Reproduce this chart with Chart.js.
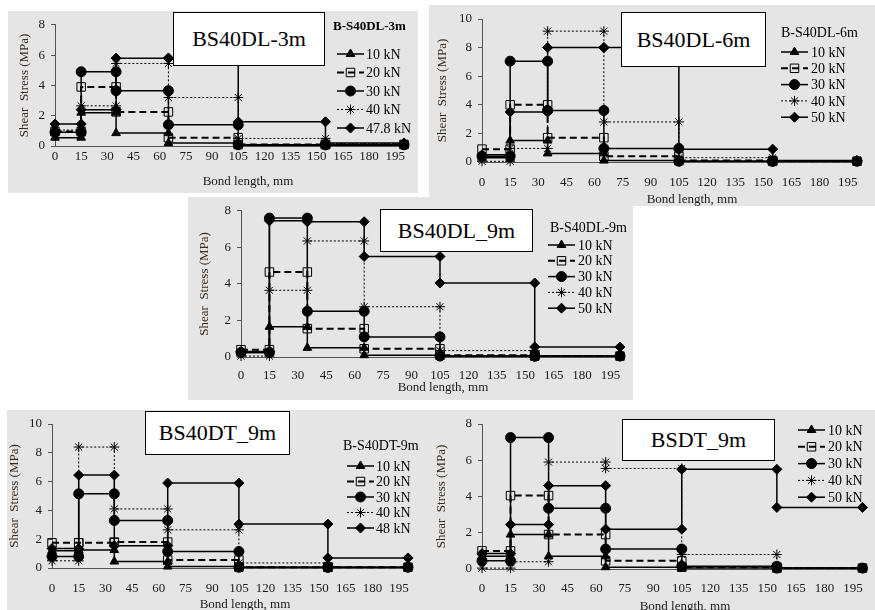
<!DOCTYPE html>
<html>
<head>
<meta charset="utf-8">
<script src="https://cdn.jsdelivr.net/npm/chart.js@4.4.1/dist/chart.umd.min.js"></script>
<style>
  html, body { margin: 0; padding: 0; background: #fff; }
  body { width: 875px; height: 610px; position: relative; overflow: hidden; font-family: "Liberation Serif", Tinos, "Times New Roman", "DejaVu Serif", serif; }
  .panel { position: absolute; background: #e5e5e5; }
  canvas { position: absolute; }
  .tag { position: absolute; background: #fff; border: 1px solid #000; box-sizing: border-box; font-size: 22px; display: flex; align-items: center; justify-content: center; color: #000; }
</style>
</head>
<body>
<script>
// segment edges along the bond length (mm) and x tick labels
const segmentEdges = [0, 15, 35, 65, 105, 155, 200];
const xTicks = [0, 15, 30, 45, 60, 75, 90, 105, 120, 135, 150, 165, 180, 195];

const loadLabels = ["10 kN", "20 kN", "30 kN", "40 kN", "50 kN"];
const loadLabels3m = ["10 kN", "20 kN", "30 kN", "40 kN", "47.8 kN"];
const loadLabelsDT = ["10 kN", "20 kN", "30 kN", "40 kN", "48 kN"];

// shear stress (MPa) per segment: 0-15, 15-35, 35-65, 65-105, 105-155, 155-200
// BS40DL-3m
const dl3m10 = [0.55, 2.2, 0.85, 0.2, 0.05, 0.05];
const dl3m20 = [0.95, 3.9, 2.25, 0.55, 0.1, 0.1];
const dl3m30 = [0.9, 4.9, 3.65, 1.4, 0.08, 0.08];
const dl3m40 = [1.05, 2.65, 5.45, 3.2, 0.5, 0.15];
const dl3m48 = [1.45, 2.4, 5.8, 5.8, 1.6, 0.2];
// BS40DL-6m
const dl6m10 = [0.3, 1.5, 0.6, 0.1, 0.05, 0.05];
const dl6m20 = [0.9, 4.0, 1.7, 0.4, 0.1, 0.05];
const dl6m30 = [0.4, 7.05, 3.6, 0.95, 0.05, 0.05];
const dl6m40 = [0.05, 0.95, 9.15, 2.8, 0.3, 0.1];
const dl6m50 = [0.5, 3.5, 8.0, 8.0, 0.9, 0.1];
// BS40DL_9m
const dl9m10 = [0.25, 1.65, 0.5, 0.1, 0.05, 0.05];
const dl9m20 = [0.4, 4.65, 1.55, 0.45, 0.1, 0.05];
const dl9m30 = [0.25, 7.6, 2.5, 1.1, 0.05, 0.05];
const dl9m40 = [0.05, 3.65, 6.35, 2.75, 0.35, 0.05];
const dl9m50 = [0.3, 7.45, 7.4, 5.5, 4.05, 0.55];
// BS40DT_9m
const dt9m10 = [1.2, 1.25, 0.45, 0.1, 0.05, 0.05];
const dt9m20 = [1.75, 1.75, 1.8, 0.55, 0.05, 0.05];
const dt9m30 = [0.8, 5.15, 3.3, 1.15, 0.05, 0.05];
const dt9m40 = [0.5, 8.4, 4.1, 2.65, 0.35, 0.05];
const dt9m48 = [1.35, 6.45, 1.55, 5.9, 3.05, 0.7];
// BSDT_9m
const sdt10 = [0.7, 1.9, 0.7, 0.1, 0.05, 0.05];
const sdt20 = [1.0, 4.05, 1.9, 0.45, 0.1, 0.05];
const sdt30 = [0.45, 7.25, 3.35, 1.1, 0.15, 0.05];
const sdt40 = [0.05, 0.4, 5.9, 5.55, 0.8, 0.05];
const sdt50 = [0.85, 2.45, 4.6, 2.2, 5.5, 3.4];

const family = '"Liberation Serif", Tinos, "Times New Roman", "DejaVu Serif", serif';
Chart.defaults.font.family = family;

const seriesLook = [
  { pointStyle: "triangle", pointRadius: 5, borderWidth: 1.5, borderDash: [], pointBackgroundColor: "#000" },
  { pointStyle: "rect", pointRadius: 6, borderWidth: 2, borderDash: [7, 4], pointBackgroundColor: "rgba(0,0,0,0)" },
  { pointStyle: "circle", pointRadius: 5, borderWidth: 1.5, borderDash: [], pointBackgroundColor: "#000" },
  { pointStyle: "star", pointRadius: 5, borderWidth: 1, borderDash: [2, 2], pointBackgroundColor: "#000" },
  { pointStyle: "rectRot", pointRadius: 5, borderWidth: 1.5, borderDash: [], pointBackgroundColor: "#000" },
];

// page coordinates: box [x, y, w, h], area [left, right, top, bottom]
const panels = [
  {
    tag: "BS40DL-3m", tagBox: [173, 12, 152, 54],
    box: [8, 11, 410, 182], area: [55, 404, 15, 146], ymax: 8, xPad: 3,
    xTitle: [248, 182], yTitleX: 25,
    labels: loadLabels3m, series: [dl3m10, dl3m20, dl3m30, dl3m40, dl3m48],
    legend: { title: "B-S40DL-3m", bold: true, size: 14, titleSize: 13, titleX: 333, titleY: 27, lineX: 337, textX: 366, y0: 54, dy: 18.5 },
  },
  {
    tag: "BS40DL-6m", tagBox: [621, 12, 145, 55],
    box: [429, 5, 446, 201], area: [482, 857, 19, 162], ymax: 10, xPad: 13,
    xTitle: [692, 200], yTitleX: 443,
    labels: loadLabels, series: [dl6m10, dl6m20, dl6m30, dl6m40, dl6m50],
    legend: { title: "B-S40DL-6m", bold: false, size: 14, titleSize: 14, titleX: 781, titleY: 33, lineX: 781, textX: 811, y0: 52, dy: 16.3 },
  },
  {
    tag: "BS40DL_9m", tagBox: [380, 209, 153, 43],
    box: [188, 197, 445, 203], area: [241, 620, 210, 357], ymax: 8, xPad: 11,
    xTitle: [443, 388], yTitleX: 205,
    labels: loadLabels, series: [dl9m10, dl9m20, dl9m30, dl9m40, dl9m50],
    legend: { title: "B-S40DL-9m", bold: false, size: 14, titleSize: 14, titleX: 550, titleY: 228, lineX: 548, textX: 578, y0: 245, dy: 15.8 },
  },
  {
    tag: "BS40DT_9m", tagBox: [145, 411, 145, 44],
    box: [7, 410, 425, 200], area: [52, 408, 424, 568], ymax: 10, xPad: 13,
    xTitle: [245, 605], yTitleX: 15,
    labels: loadLabelsDT, series: [dt9m10, dt9m20, dt9m30, dt9m40, dt9m48],
    legend: { title: "B-S40DT-9m", bold: false, size: 14, titleSize: 14, titleX: 343, titleY: 446, lineX: 347, textX: 376, y0: 466, dy: 15.5 },
  },
  {
    tag: "BSDT_9m", tagBox: [622, 419, 153, 42],
    box: [432, 410, 443, 200], area: [482, 863, 424, 569], ymax: 8, xPad: 12,
    xTitle: [685, 607], yTitleX: 442,
    labels: loadLabels, series: [sdt10, sdt20, sdt30, sdt40, sdt50],
    legend: { title: null, bold: false, size: 14, titleSize: 14, titleX: 0, titleY: 0, lineX: 798, textX: 828, y0: 430, dy: 16.8 },
  },
];

function stepPoints(values) {
  const pts = [];
  values.forEach((v, i) => {
    pts.push({ x: segmentEdges[i], y: v }, { x: segmentEdges[i + 1], y: v });
  });
  return pts;
}

// draws the x axis title and the in-plot legend
const panelExtras = {
  id: "panelExtras",
  afterDraw(chart, args, o) {
    const ctx = chart.ctx;
    ctx.save();
    ctx.textBaseline = "middle";
    ctx.fillStyle = "#1a1a1a";
    ctx.textAlign = "center";
    ctx.font = "13px " + family;
    ctx.fillText("Bond length, mm", o.xTitle[0], o.xTitle[1]);
    ctx.textAlign = "left";
    const lg = o.legend;
    if (lg.title) {
      ctx.fillStyle = "#000";
      ctx.font = (lg.bold ? "bold " : "") + lg.titleSize + "px " + family;
      ctx.fillText(lg.title, lg.titleX, lg.titleY);
    }
    chart.data.datasets.forEach((ds, i) => {
      const y = lg.y0 + i * lg.dy;
      ctx.strokeStyle = "#000";
      ctx.lineWidth = ds.borderWidth;
      ctx.setLineDash(ds.borderDash);
      ctx.beginPath();
      ctx.moveTo(lg.lineX, y);
      ctx.lineTo(lg.lineX + 27, y);
      ctx.stroke();
      ctx.setLineDash([]);
      ctx.fillStyle = ds.pointBackgroundColor;
      ctx.lineWidth = ds.pointBorderWidth;
      Chart.helpers.drawPoint(ctx, { pointStyle: ds.pointStyle, radius: ds.pointRadius, rotation: 0, borderWidth: ds.pointBorderWidth }, lg.lineX + 13.5, y);
      ctx.fillStyle = "#000";
      ctx.font = lg.size + "px " + family;
      ctx.fillText(ds.label, lg.textX, y + 1);
    });
    ctx.restore();
  },
};

panels.forEach((p) => {
  const [bx, by, bw, bh] = p.box;
  const [al, ar, at, ab] = p.area;
  const ch = bh + 12;

  const bg = document.createElement("div");
  bg.className = "panel";
  Object.assign(bg.style, { left: bx + "px", top: by + "px", width: bw + "px", height: bh + "px" });
  document.body.appendChild(bg);

  const cv = document.createElement("canvas");
  cv.width = bw;
  cv.height = ch;
  Object.assign(cv.style, { left: bx + "px", top: by + "px", width: bw + "px", height: ch + "px" });
  document.body.appendChild(cv);

  const datasets = p.series.map((vals, i) => ({
    label: p.labels[i],
    data: stepPoints(vals),
    borderColor: "#000",
    pointBorderColor: "#000",
    pointBorderWidth: 1,
    clip: false,
    ...seriesLook[i],
  }));

  const lg = p.legend;
  new Chart(cv, {
    type: "line",
    data: { datasets },
    options: {
      responsive: false,
      animation: false,
      devicePixelRatio: 1,
      elements: { line: { tension: 0 } },
      layout: { padding: { left: 0, top: at - by, right: bx + bw - ar, bottom: 0 } },
      plugins: {
        legend: { display: false },
        tooltip: { enabled: false },
        panelExtras: {
          xTitle: [p.xTitle[0] - bx, p.xTitle[1] - by],
          legend: {
            title: lg.title, bold: lg.bold, size: lg.size, titleSize: lg.titleSize,
            titleX: lg.titleX - bx, titleY: lg.titleY - by,
            lineX: lg.lineX - bx, textX: lg.textX - bx,
            y0: lg.y0 - by, dy: lg.dy,
          },
        },
      },
      scales: {
        x: {
          type: "linear",
          min: 0,
          max: 200,
          afterBuildTicks: (s) => { s.ticks = xTicks.map((v) => ({ value: v })); },
          afterFit: (s) => { s.height = ch - (ab - by); },
          grid: { drawOnChartArea: false, drawTicks: false },
          border: { display: true, color: "#555", width: 1 },
          ticks: { padding: p.xPad, color: "#1a1a1a", autoSkip: false, maxRotation: 0, font: { family, size: 13 } },
        },
        y: {
          min: 0,
          max: p.ymax,
          afterFit: (s) => { s.width = al - bx; },
          grid: { drawOnChartArea: false, drawTicks: true, tickLength: 4, color: "#555" },
          border: { display: true, color: "#555", width: 1 },
          ticks: { stepSize: 2, padding: 6, color: "#1a1a1a", font: { family, size: 13 } },
          title: {
            display: true,
            text: "Shear  Stress (MPa)",
            color: "#3a2a1e",
            font: { family, size: 13 },
            padding: { top: Math.max(0, p.yTitleX - bx - 7.8), bottom: 0 },
          },
        },
      },
    },
    plugins: [panelExtras],
  });

  const tag = document.createElement("div");
  tag.className = "tag";
  tag.textContent = p.tag;
  const [tx, ty, tw, th] = p.tagBox;
  Object.assign(tag.style, { left: tx + "px", top: ty + "px", width: tw + "px", height: th + "px" });
  document.body.appendChild(tag);
});
</script>
</body>
</html>
